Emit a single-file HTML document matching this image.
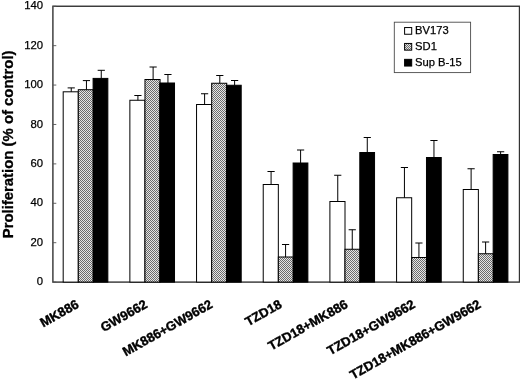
<!DOCTYPE html>
<html><head><meta charset="utf-8"><title>chart</title>
<style>
html,body{margin:0;padding:0;background:#fff;}
body{width:520px;height:381px;overflow:hidden;position:relative;font-family:"Liberation Sans",sans-serif;}
svg{position:absolute;left:0;top:0;display:block;}
text{font-family:"Liberation Sans",sans-serif;fill:#000;}
svg{filter:grayscale(1);}
</style></head><body>
<svg width="520" height="381" viewBox="0 0 520 381">
<defs>
<pattern id="h" width="2" height="2" patternUnits="userSpaceOnUse">
<rect width="2" height="2" fill="#e6e6e6"/>
<rect x="0" y="0" width="1" height="1" fill="#6c6c6c"/>
<rect x="1" y="1" width="1" height="1" fill="#6c6c6c"/>
</pattern>
</defs>
<rect width="520" height="381" fill="#fff"/>
<rect x="52.9" y="6.25" width="466.6" height="275.85" fill="none" stroke="#333" stroke-width="1.4"/>
<line x1="52.9" y1="282.10" x2="56.3" y2="282.10" stroke="#555" stroke-width="0.9"/>
<text transform="translate(43 285.30)" font-size="11.3" text-anchor="end" stroke="#000" stroke-width="0.25">0</text>
<line x1="52.9" y1="242.69" x2="56.3" y2="242.69" stroke="#555" stroke-width="0.9"/>
<text transform="translate(43 245.89)" font-size="11.3" text-anchor="end" stroke="#000" stroke-width="0.25">20</text>
<line x1="52.9" y1="203.29" x2="56.3" y2="203.29" stroke="#555" stroke-width="0.9"/>
<text transform="translate(43 206.49)" font-size="11.3" text-anchor="end" stroke="#000" stroke-width="0.25">40</text>
<line x1="52.9" y1="163.88" x2="56.3" y2="163.88" stroke="#555" stroke-width="0.9"/>
<text transform="translate(43 167.08)" font-size="11.3" text-anchor="end" stroke="#000" stroke-width="0.25">60</text>
<line x1="52.9" y1="124.47" x2="56.3" y2="124.47" stroke="#555" stroke-width="0.9"/>
<text transform="translate(43 127.67)" font-size="11.3" text-anchor="end" stroke="#000" stroke-width="0.25">80</text>
<line x1="52.9" y1="85.06" x2="56.3" y2="85.06" stroke="#555" stroke-width="0.9"/>
<text transform="translate(43 88.26)" font-size="11.3" text-anchor="end" stroke="#000" stroke-width="0.25">100</text>
<line x1="52.9" y1="45.66" x2="56.3" y2="45.66" stroke="#555" stroke-width="0.9"/>
<text transform="translate(43 48.86)" font-size="11.3" text-anchor="end" stroke="#000" stroke-width="0.25">120</text>
<line x1="52.9" y1="6.25" x2="56.3" y2="6.25" stroke="#555" stroke-width="0.9"/>
<text transform="translate(43 9.45)" font-size="11.3" text-anchor="end" stroke="#000" stroke-width="0.25">140</text>
<rect x="63.19" y="91.80" width="15.10" height="190.30" fill="#fff" stroke="#000" stroke-width="1"/>
<path d="M71.24 91.80V87.90M67.64 87.90H74.84" stroke="#000" stroke-width="1" fill="none"/>
<rect x="78.29" y="89.70" width="15.10" height="192.40" fill="url(#h)" stroke="#000" stroke-width="1"/>
<path d="M86.44 89.70V80.60M82.84 80.60H90.04" stroke="#000" stroke-width="1" fill="none"/>
<rect x="93.09" y="78.40" width="14.75" height="203.70" fill="#000" stroke="#000" stroke-width="1"/>
<path d="M101.26 78.40V70.30M97.66 70.30H104.86" stroke="#000" stroke-width="1" fill="none"/>
<text transform="translate(79.74 306.90) rotate(-29.5)" font-size="13" font-weight="bold" text-anchor="end" stroke="#000" stroke-width="0.4" stroke-linejoin="round">MK886</text>
<rect x="129.87" y="100.25" width="15.10" height="181.85" fill="#fff" stroke="#000" stroke-width="1"/>
<path d="M137.92 100.25V95.50M134.32 95.50H141.52" stroke="#000" stroke-width="1" fill="none"/>
<rect x="144.97" y="79.50" width="15.10" height="202.60" fill="url(#h)" stroke="#000" stroke-width="1"/>
<path d="M153.12 79.50V67.00M149.52 67.00H156.72" stroke="#000" stroke-width="1" fill="none"/>
<rect x="159.77" y="83.00" width="14.75" height="199.10" fill="#000" stroke="#000" stroke-width="1"/>
<path d="M167.94 83.00V74.50M164.34 74.50H171.54" stroke="#000" stroke-width="1" fill="none"/>
<text transform="translate(148.42 306.90) rotate(-29.5)" font-size="13" font-weight="bold" text-anchor="end" stroke="#000" stroke-width="0.4" stroke-linejoin="round">GW9662</text>
<rect x="196.55" y="104.50" width="15.10" height="177.60" fill="#fff" stroke="#000" stroke-width="1"/>
<path d="M204.60 104.50V93.75M201.00 93.75H208.20" stroke="#000" stroke-width="1" fill="none"/>
<rect x="211.65" y="83.25" width="15.10" height="198.85" fill="url(#h)" stroke="#000" stroke-width="1"/>
<path d="M219.80 83.25V75.50M216.20 75.50H223.40" stroke="#000" stroke-width="1" fill="none"/>
<rect x="226.45" y="85.25" width="14.75" height="196.85" fill="#000" stroke="#000" stroke-width="1"/>
<path d="M234.62 85.25V80.50M231.02 80.50H238.22" stroke="#000" stroke-width="1" fill="none"/>
<text transform="translate(213.50 306.90) rotate(-29.5)" font-size="13" font-weight="bold" text-anchor="end" stroke="#000" stroke-width="0.4" stroke-linejoin="round">MK886+GW9662</text>
<rect x="263.23" y="184.50" width="15.10" height="97.60" fill="#fff" stroke="#000" stroke-width="1"/>
<path d="M271.08 184.50V171.50M267.48 171.50H274.68" stroke="#000" stroke-width="1" fill="none"/>
<rect x="278.33" y="257.00" width="15.10" height="25.10" fill="url(#h)" stroke="#000" stroke-width="1"/>
<path d="M285.58 257.00V244.50M281.98 244.50H289.18" stroke="#000" stroke-width="1" fill="none"/>
<rect x="293.12" y="163.00" width="14.75" height="119.10" fill="#000" stroke="#000" stroke-width="1"/>
<path d="M300.60 163.00V150.00M297.00 150.00H304.20" stroke="#000" stroke-width="1" fill="none"/>
<text transform="translate(282.77 306.90) rotate(-29.5)" font-size="13" font-weight="bold" text-anchor="end" stroke="#000" stroke-width="0.4" stroke-linejoin="round">TZD18</text>
<rect x="329.90" y="201.50" width="15.10" height="80.60" fill="#fff" stroke="#000" stroke-width="1"/>
<path d="M337.75 201.50V175.25M334.15 175.25H341.35" stroke="#000" stroke-width="1" fill="none"/>
<rect x="345.00" y="249.25" width="15.10" height="32.85" fill="url(#h)" stroke="#000" stroke-width="1"/>
<path d="M352.25 249.25V229.75M348.65 229.75H355.85" stroke="#000" stroke-width="1" fill="none"/>
<rect x="359.80" y="152.50" width="14.75" height="129.60" fill="#000" stroke="#000" stroke-width="1"/>
<path d="M367.28 152.50V137.50M363.68 137.50H370.88" stroke="#000" stroke-width="1" fill="none"/>
<text transform="translate(348.85 306.90) rotate(-29.5)" font-size="13" font-weight="bold" text-anchor="end" stroke="#000" stroke-width="0.4" stroke-linejoin="round">TZD18+MK886</text>
<rect x="396.58" y="197.75" width="15.10" height="84.35" fill="#fff" stroke="#000" stroke-width="1"/>
<path d="M404.43 197.75V167.50M400.83 167.50H408.03" stroke="#000" stroke-width="1" fill="none"/>
<rect x="411.68" y="257.50" width="15.10" height="24.60" fill="url(#h)" stroke="#000" stroke-width="1"/>
<path d="M418.93 257.50V243.00M415.33 243.00H422.53" stroke="#000" stroke-width="1" fill="none"/>
<rect x="426.48" y="157.50" width="14.75" height="124.60" fill="#000" stroke="#000" stroke-width="1"/>
<path d="M433.96 157.50V140.50M430.36 140.50H437.56" stroke="#000" stroke-width="1" fill="none"/>
<text transform="translate(416.13 306.90) rotate(-29.5)" font-size="13" font-weight="bold" text-anchor="end" stroke="#000" stroke-width="0.4" stroke-linejoin="round">TZD18+GW9662</text>
<rect x="463.26" y="189.50" width="15.10" height="92.60" fill="#fff" stroke="#000" stroke-width="1"/>
<path d="M471.11 189.50V168.75M467.51 168.75H474.71" stroke="#000" stroke-width="1" fill="none"/>
<rect x="478.36" y="253.75" width="15.10" height="28.35" fill="url(#h)" stroke="#000" stroke-width="1"/>
<path d="M485.61 253.75V242.00M482.01 242.00H489.21" stroke="#000" stroke-width="1" fill="none"/>
<rect x="493.16" y="154.50" width="14.75" height="127.60" fill="#000" stroke="#000" stroke-width="1"/>
<path d="M500.64 154.50V151.75M497.04 151.75H504.24" stroke="#000" stroke-width="1" fill="none"/>
<text transform="translate(481.81 306.90) rotate(-29.5)" font-size="13" font-weight="bold" text-anchor="end" stroke="#000" stroke-width="0.4" stroke-linejoin="round">TZD18+MK886+GW9662</text>
<text transform="translate(13.4 144.4) rotate(-90)" font-size="14.9" font-weight="bold" text-anchor="middle" stroke="#000" stroke-width="0.3" stroke-linejoin="round">Proliferation (% of control)</text>
<rect x="394.3" y="22.2" width="76.3" height="50.4" fill="#fff" stroke="#4a4a4a" stroke-width="0.9"/>
<rect x="404.6" y="27.55" width="7.1" height="6.7" fill="#fff" stroke="#000" stroke-width="1"/>
<text transform="translate(415.1 34.00)" font-size="11.2" stroke="#000" stroke-width="0.25">BV173</text>
<rect x="404.6" y="43.45" width="7.1" height="6.7" fill="url(#h)" stroke="#000" stroke-width="1"/>
<text transform="translate(415.1 49.85)" font-size="11.2" stroke="#000" stroke-width="0.25">SD1</text>
<rect x="404.6" y="59.35" width="7.1" height="6.7" fill="#000" stroke="#000" stroke-width="1"/>
<text transform="translate(415.1 65.70)" font-size="11.2" stroke="#000" stroke-width="0.25">Sup B-15</text>
</svg></body></html>
